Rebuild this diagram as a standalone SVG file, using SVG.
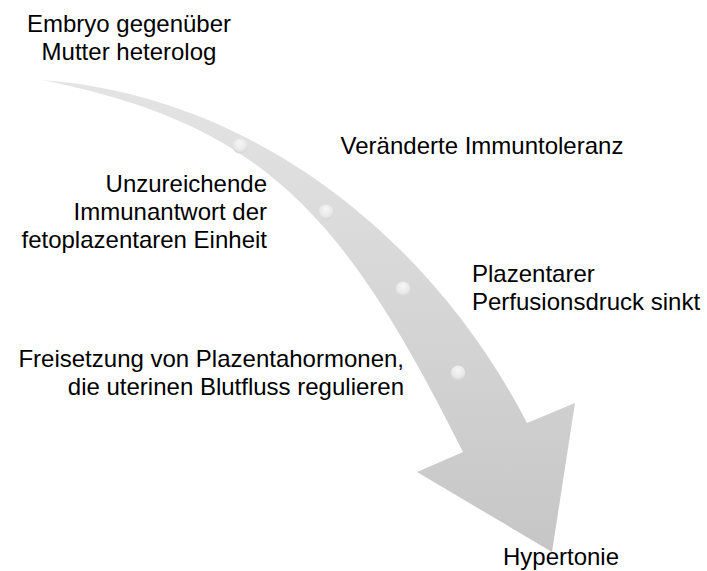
<svg xmlns="http://www.w3.org/2000/svg" width="707" height="571" viewBox="0 0 707 571">
  <style>
    .lbl { font-family: "Liberation Sans", Arial, sans-serif; font-size: 24px; fill: #000000; }
    .mid { text-anchor: middle; }
    .end { text-anchor: end; }
    .start { text-anchor: start; }
    .dot { fill: url(#dotGrad); }
  </style>
  <defs>
    <linearGradient id="arrowGrad" gradientUnits="userSpaceOnUse" x1="0" y1="80" x2="0" y2="552">
      <stop offset="0" stop-color="#e4e4e4"/>
      <stop offset="1" stop-color="#c6c6c6"/>
    </linearGradient>
    <radialGradient id="dotGrad" cx="0.5" cy="0.4" r="0.6" fx="0.5" fy="0.3">
      <stop offset="0" stop-color="#f7f7f7"/>
      <stop offset="0.7" stop-color="#e8e8e8"/>
      <stop offset="1" stop-color="#d2d2d2"/>
    </radialGradient>
  </defs>

  <g id="connectors">
    <path id="curved-arrow" fill="url(#arrowGrad)"
      d="M 42 80 C 250 95 430 235 527 423 L 575 403 L 552 552 L 417 472 L 463 452 C 343 212 262 124 42 80 Z"/>
    <circle class="dot" cx="240" cy="146" r="7.5"/>
    <circle class="dot" cx="326" cy="212" r="7.5"/>
    <circle class="dot" cx="403" cy="289" r="7.5"/>
    <circle class="dot" cx="458" cy="373" r="7.5"/>
  </g>

  <g id="node-embryo">
    <text class="lbl mid" x="129" y="31.5">Embryo gegenüber</text>
    <text class="lbl mid" x="129" y="59.5">Mutter heterolog</text>
  </g>

  <g id="node-immuntoleranz">
    <text class="lbl mid" x="482" y="154">Veränderte Immuntoleranz</text>
  </g>

  <g id="node-immunantwort">
    <text class="lbl end" x="267" y="192">Unzureichende</text>
    <text class="lbl end" x="267" y="220">Immunantwort der</text>
    <text class="lbl end" x="267" y="248">fetoplazentaren Einheit</text>
  </g>

  <g id="node-perfusion">
    <text class="lbl start" x="472" y="282">Plazentarer</text>
    <text class="lbl start" x="472" y="310">Perfusionsdruck sinkt</text>
  </g>

  <g id="node-hormone">
    <text class="lbl end" x="404" y="367">Freisetzung von Plazentahormonen,</text>
    <text class="lbl end" x="404" y="395">die uterinen Blutfluss regulieren</text>
  </g>

  <g id="node-hypertonie">
    <text class="lbl mid" x="561" y="565">Hypertonie</text>
  </g>
</svg>
